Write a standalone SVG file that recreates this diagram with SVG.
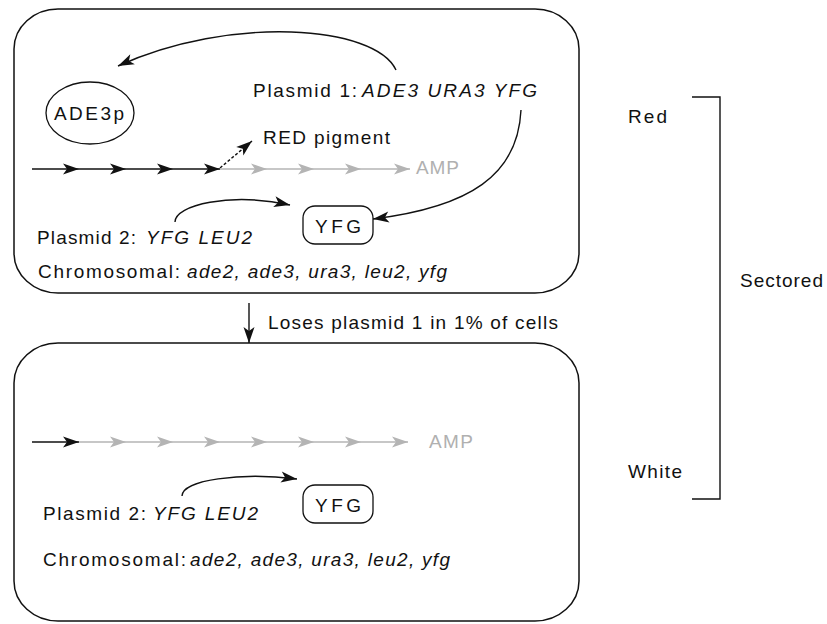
<svg xmlns="http://www.w3.org/2000/svg" xmlns:xlink="http://www.w3.org/1999/xlink" width="827" height="624" viewBox="0 0 827 624">
  <style>
    text { font-family: "Liberation Sans", Arial, Helvetica, sans-serif; font-size: 19px; fill: #111; }
    .it { font-style: italic; }
    .grey { fill: #b0b0b0; }
    .cell { fill: none; stroke: #111; stroke-width: 1.5; }
    .wire { fill: none; stroke: #111; stroke-width: 1.4; }
    .gwire { fill: none; stroke: #b4b4b4; stroke-width: 1.4; }
    .node { fill: none; stroke: #111; stroke-width: 1.3; }
  </style>
  <defs>
    <marker id="head" markerUnits="userSpaceOnUse" markerWidth="18" markerHeight="14" viewBox="-17 -7 18 14" refX="0" refY="0" orient="auto">
      <path d="M-16,-5.5 L0,0 L-16,5.5 L-12,0 Z" fill="#111"/>
    </marker>
    <path id="bh" d="M-16,-5.5 L0,0 L-16,5.5 L-12,0 Z" fill="#111"/>
    <path id="gh" d="M-16,-5.5 L0,0 L-16,5.5 L-12,0 Z" fill="#b4b4b4"/>
  </defs>

  <!-- cell with both plasmids -->
  <g id="cell-red">
    <rect class="cell" x="14" y="9" width="565" height="284" rx="44" ry="40"/>
  </g>

  <!-- cell after losing plasmid 1 -->
  <g id="cell-white">
    <rect class="cell" x="14" y="343" width="565" height="278" rx="44" ry="40"/>
  </g>

  <g id="ade3p">
    <ellipse class="node" cx="90" cy="113" rx="44" ry="31"/>
    <text x="89" y="120" text-anchor="middle" textLength="70">ADE3p</text>
  </g>

  <g id="plasmid1">
    <text x="253" y="97" textLength="104">Plasmid 1:</text>
    <text class="it" x="362" y="97" textLength="175">ADE3 URA3 YFG</text>
  </g>

  <g id="red-pigment">
    <text x="263" y="144" textLength="127">RED pigment</text>
  </g>

  <g id="amp-top">
    <text class="grey" x="416" y="174" textLength="43">AMP</text>
  </g>

  <g id="yfg-top">
    <rect class="node" x="303" y="206" width="70" height="38" rx="12"/>
    <text x="338" y="233" text-anchor="middle" textLength="46">YFG</text>
  </g>

  <g id="plasmid2-top">
    <text x="37" y="244" textLength="99">Plasmid 2:</text>
    <text class="it" x="146" y="244" textLength="106">YFG LEU2</text>
  </g>

  <g id="chromosomal-top">
    <text x="38" y="278" textLength="142">Chromosomal:</text>
    <text class="it" x="187" y="278" textLength="260">ade2, ade3, ura3, leu2, yfg</text>
  </g>

  <g id="amp-bottom">
    <text class="grey" x="429" y="448" textLength="44">AMP</text>
  </g>

  <g id="yfg-bottom">
    <rect class="node" x="303" y="485" width="70" height="38" rx="12"/>
    <text x="338" y="512" text-anchor="middle" textLength="46">YFG</text>
  </g>

  <g id="plasmid2-bottom">
    <text x="43" y="520" textLength="103">Plasmid 2:</text>
    <text class="it" x="153" y="520" textLength="105">YFG LEU2</text>
  </g>

  <g id="chromosomal-bottom">
    <text x="43" y="566" textLength="143">Chromosomal:</text>
    <text class="it" x="190" y="566" textLength="260">ade2, ade3, ura3, leu2, yfg</text>
  </g>

  <g id="loses-label">
    <text x="268" y="329" textLength="290">Loses plasmid 1 in 1% of cells</text>
  </g>

  <g id="phenotypes">
    <text x="628" y="123" textLength="39">Red</text>
    <text x="628" y="478" textLength="54">White</text>
    <text x="740" y="287" textLength="83">Sectored</text>
    <path class="wire" d="M692,97 H720 V499 H692"/>
  </g>

  <g id="connectors">
    <!-- plasmid 1 ADE3 to ADE3p -->
    <path class="wire" d="M396,70 C375,25 230,15 118,66" marker-end="url(#head)"/>
    <!-- plasmid 1 YFG to YFG protein -->
    <path class="wire" d="M521,110 C518,175 470,207 373,219" marker-end="url(#head)"/>
    <!-- plasmid 2 YFG to YFG protein -->
    <path class="wire" d="M175,222 C175,205 230,192 290,205" marker-end="url(#head)"/>
    <path class="wire" d="M182,496 C182,480 240,472 297,479" marker-end="url(#head)"/>
    <!-- branch to red pigment -->
    <path class="wire" d="M220,168 L252,141" stroke-dasharray="3,2" marker-end="url(#head)"/>
    <!-- loss of plasmid 1 -->
    <path class="wire" d="M249,303 V343" marker-end="url(#head)"/>

    <!-- adenine pathway, red cell -->
    <path class="wire" d="M32,169 H220"/>
    <path class="gwire" d="M220,169 H410"/>
    <use xlink:href="#bh" x="79" y="169"/>
    <use xlink:href="#bh" x="126" y="169"/>
    <use xlink:href="#bh" x="173" y="169"/>
    <use xlink:href="#bh" x="220" y="169"/>
    <use xlink:href="#gh" x="267" y="169"/>
    <use xlink:href="#gh" x="314" y="169"/>
    <use xlink:href="#gh" x="361" y="169"/>
    <use xlink:href="#gh" x="410" y="169"/>

    <!-- adenine pathway, white cell -->
    <path class="wire" d="M32,442 H79"/>
    <path class="gwire" d="M79,442 H408"/>
    <use xlink:href="#bh" x="79" y="442"/>
    <use xlink:href="#gh" x="126" y="442"/>
    <use xlink:href="#gh" x="173" y="442"/>
    <use xlink:href="#gh" x="220" y="442"/>
    <use xlink:href="#gh" x="267" y="442"/>
    <use xlink:href="#gh" x="314" y="442"/>
    <use xlink:href="#gh" x="361" y="442"/>
    <use xlink:href="#gh" x="408" y="442"/>
  </g>
</svg>
